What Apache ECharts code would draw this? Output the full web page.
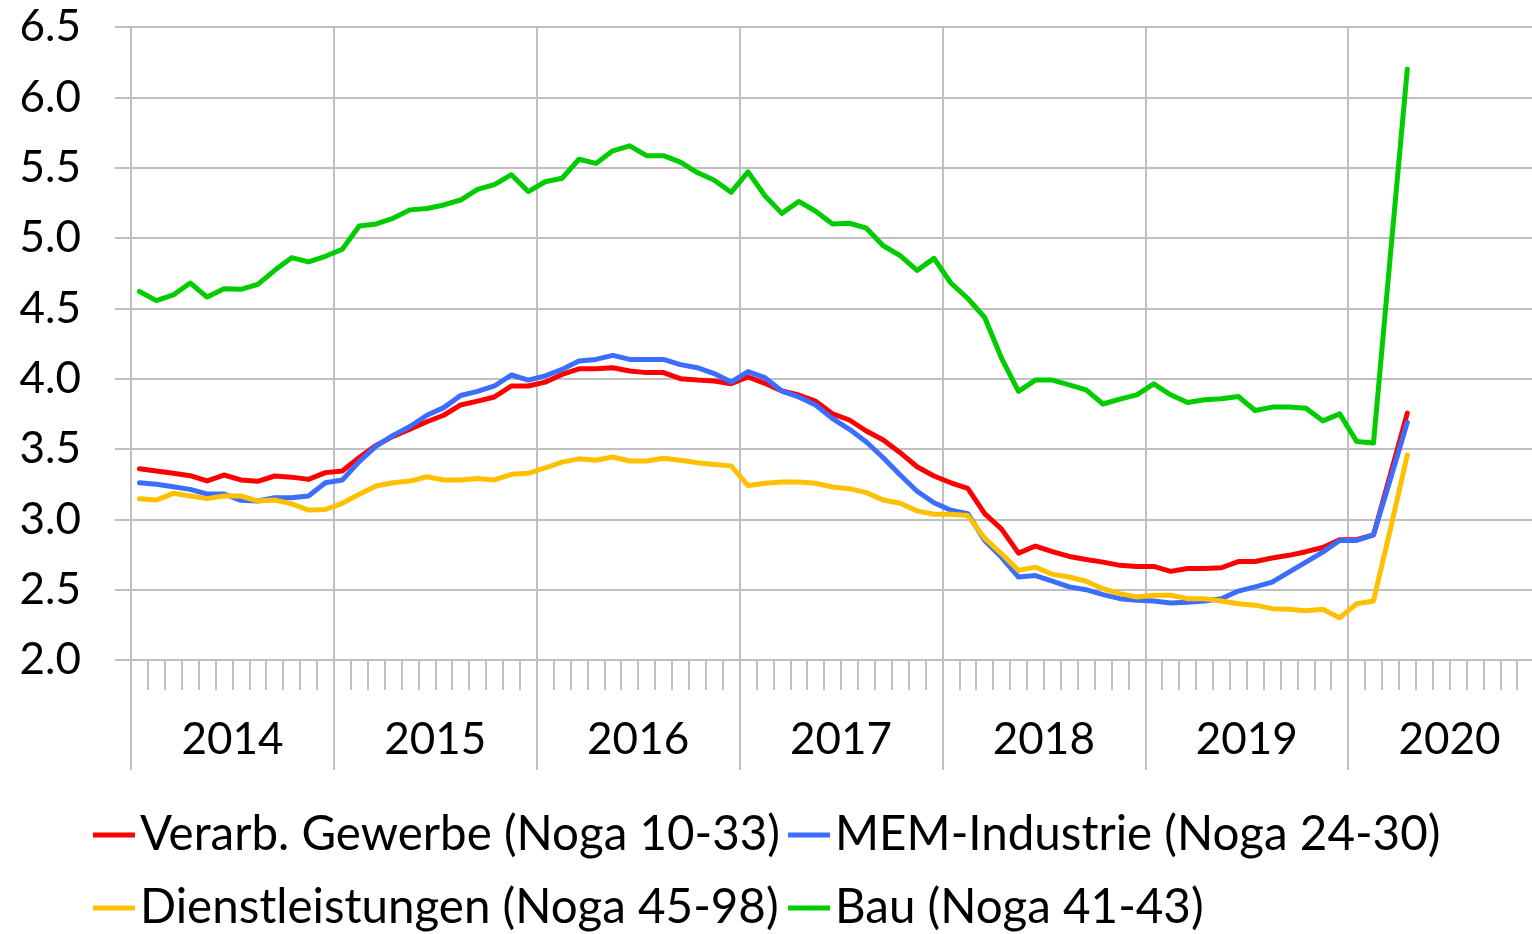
<!DOCTYPE html>
<html>
<head>
<meta charset="utf-8">
<script src="https://cdn.jsdelivr.net/npm/echarts@6/dist/echarts.min.js"></script>
<style>
html,body{margin:0;padding:0;background:#fff;overflow:hidden;}
#chart{width:1532px;height:934px;}
</style>
</head>
<body>
<div id="chart"></div>
<script>
// Years shown on the axis and months per year (category axis Jan 2014 - Dec 2020)
const years = ['2014','2015','2016','2017','2018','2019','2020'];
const monthNames = ['01','02','03','04','05','06','07','08','09','10','11','12'];
const seriesNames = [
  'Verarb. Gewerbe (Noga 10-33)',
  'MEM-Industrie (Noga 24-30)',
  'Dienstleistungen (Noga 45-98)',
  'Bau (Noga 41-43)'
];
const yTicks = [2.0, 2.5, 3.0, 3.5, 4.0, 4.5, 5.0, 5.5, 6.0, 6.5];

// Monthly values Jan 2014 - Apr 2020
const verarb = [
  3.36, 3.344, 3.327, 3.31, 3.273, 3.315, 3.28, 3.27, 3.308, 3.30, 3.284, 3.332,
  3.344, 3.44, 3.526, 3.59, 3.64, 3.694, 3.74, 3.813, 3.84, 3.87, 3.948, 3.948,
  3.975, 4.03, 4.07, 4.07, 4.078, 4.055, 4.043, 4.043, 4.0, 3.99, 3.983, 3.964,
  4.012, 3.967, 3.912, 3.884, 3.84, 3.75, 3.706, 3.628, 3.564, 3.474, 3.374, 3.308,
  3.26, 3.22, 3.04, 2.93, 2.76, 2.81, 2.77, 2.736, 2.715, 2.696, 2.673, 2.665,
  2.665, 2.63, 2.65, 2.65, 2.656, 2.70, 2.70, 2.725, 2.744, 2.77, 2.80, 2.855,
  2.855, 2.89, 3.32, 3.755
];
const mem = [
  3.26, 3.25, 3.232, 3.213, 3.18, 3.18, 3.135, 3.13, 3.154, 3.154, 3.166, 3.26,
  3.28, 3.41, 3.52, 3.597, 3.66, 3.74, 3.794, 3.88, 3.91, 3.948, 4.026, 3.99,
  4.02, 4.066, 4.126, 4.137, 4.166, 4.137, 4.137, 4.137, 4.10, 4.078, 4.036, 3.976,
  4.05, 4.007, 3.912, 3.87, 3.813, 3.716, 3.64, 3.55, 3.438, 3.315, 3.20, 3.118,
  3.065, 3.04, 2.85, 2.73, 2.59, 2.60, 2.56, 2.52, 2.50, 2.465, 2.436, 2.424,
  2.42, 2.405, 2.41, 2.42, 2.436, 2.49, 2.52, 2.554, 2.625, 2.696, 2.767, 2.85,
  2.85, 2.89, 3.285, 3.69
];
const dienst = [
  3.147, 3.137, 3.185, 3.166, 3.147, 3.166, 3.166, 3.13, 3.137, 3.11, 3.066, 3.07,
  3.114, 3.178, 3.237, 3.26, 3.272, 3.303, 3.28, 3.28, 3.29, 3.28, 3.32, 3.327,
  3.365, 3.407, 3.43, 3.42, 3.443, 3.415, 3.415, 3.434, 3.42, 3.403, 3.39, 3.38,
  3.24, 3.256, 3.265, 3.265, 3.256, 3.23, 3.218, 3.19, 3.137, 3.114, 3.06, 3.036,
  3.036, 3.027, 2.866, 2.755, 2.637, 2.66, 2.61, 2.59, 2.56, 2.507, 2.472, 2.448,
  2.46, 2.46, 2.436, 2.436, 2.42, 2.40, 2.39, 2.365, 2.36, 2.35, 2.36, 2.30,
  2.40, 2.42, 2.93, 3.457
];
const bau = [
  4.62, 4.555, 4.595, 4.68, 4.58, 4.64, 4.635, 4.67, 4.77, 4.86, 4.83, 4.87,
  4.92, 5.085, 5.10, 5.14, 5.20, 5.21, 5.235, 5.27, 5.345, 5.38, 5.45, 5.33,
  5.40, 5.425, 5.56, 5.53, 5.62, 5.655, 5.585, 5.585, 5.54, 5.465, 5.41, 5.325,
  5.47, 5.30, 5.175, 5.26, 5.19, 5.10, 5.105, 5.07, 4.945, 4.875, 4.77, 4.855,
  4.68, 4.57, 4.435, 4.145, 3.91, 3.99, 3.99, 3.956, 3.92, 3.82, 3.855, 3.885,
  3.963, 3.885, 3.83, 3.85, 3.857, 3.873, 3.774, 3.798, 3.798, 3.79, 3.70, 3.75,
  3.554, 3.543, 4.88, 6.20
];

const months = [];
years.forEach(y => monthNames.forEach(m => months.push(y + '-' + m)));

const colors = ['#ff0000', '#3b6eff', '#ffc000', '#00cc00'];
const seriesData = [verarb, mem, dienst, bau];
const gridColor = '#c0c0c0';
const font = 'Lato, "Open Sans", sans-serif';

const chart = echarts.init(document.getElementById('chart'), null, {renderer: 'canvas'});

const legendBase = {
  icon: 'rect', itemWidth: 42, itemHeight: 5, padding: 0, selectedMode: false,
  textStyle: {fontFamily: font, fontSize: 47.5, color: '#000', lineHeight: 50}
};
const legendPos = [[93, 810], [788, 810], [93, 883], [788, 883]];

chart.setOption({
  animation: false,
  backgroundColor: '#fff',
  color: colors,
  grid: {left: 131, top: 27, bottom: 274, right: -19, containLabel: false, outerBoundsMode: 'none'},
  legend: seriesNames.map((n, i) => Object.assign({}, legendBase, {
    data: [n], left: legendPos[i][0], top: legendPos[i][1]
  })),
  xAxis: [
    {
      type: 'category', data: months, boundaryGap: true, position: 'bottom', offset: 0,
      axisLine: {show: true, lineStyle: {color: gridColor, width: 2}},
      axisTick: {show: true, interval: 0, length: 30, lineStyle: {color: gridColor, width: 2}},
      axisLabel: {show: false},
      splitLine: {show: false}
    },
    {
      type: 'category', data: years, boundaryGap: true, position: 'bottom', offset: 0,
      axisLine: {show: false},
      axisTick: {show: true, interval: 0, length: 110, lineStyle: {color: gridColor, width: 2}},
      axisLabel: {show: true, interval: 0, margin: 58, fontFamily: font, fontSize: 44, color: '#000'},
      splitLine: {show: true, interval: 0, lineStyle: {color: gridColor, width: 2}}
    }
  ],
  yAxis: {
    type: 'value', min: yTicks[0], max: yTicks[yTicks.length - 1], interval: 0.5,
    axisLine: {show: true, lineStyle: {color: gridColor, width: 2}},
    axisTick: {show: true, length: 16, lineStyle: {color: gridColor, width: 2}},
    axisLabel: {margin: 50, fontFamily: font, fontSize: 44, color: '#000',
      formatter: v => v.toFixed(1)},
    splitLine: {show: true, lineStyle: {color: gridColor, width: 2}}
  },
  series: seriesNames.map((n, i) => ({
    name: n, type: 'line', xAxisIndex: 0, data: seriesData[i],
    symbol: 'none', showSymbol: false,
    lineStyle: {width: 5, color: colors[i], join: 'round', cap: 'round'},
    itemStyle: {color: colors[i]},
    z: 2 + i
  }))
});
</script>
</body>
</html>
